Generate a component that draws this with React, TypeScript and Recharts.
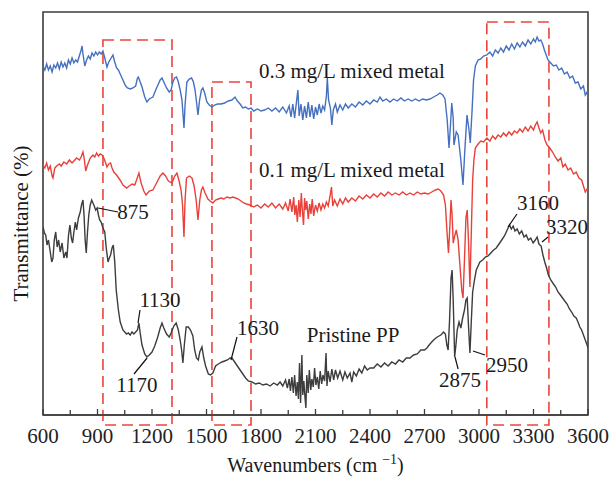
import React from "react";
import {
  ComposedChart,
  Line,
  XAxis,
  YAxis,
  ReferenceArea,
  ReferenceLine,
  ReferenceDot,
} from "recharts";

// [wavenumber (cm-1), transmittance (a.u., stacked)]
const spectrum03: [number, number][] = [
  [600, 349], [610, 345], [620, 351], [630, 345], [640, 349], [650, 343], [660, 350], [670, 347], [680, 352], [690, 346],
  [700, 353], [710, 348], [720, 352], [730, 347], [740, 355], [750, 351], [760, 357], [770, 352], [780, 355], [790, 353],
  [800, 359], [810, 365], [815, 369], [820, 361], [830, 349], [840, 355], [850, 359], [860, 356], [870, 362], [880, 359],
  [890, 363], [900, 360], [910, 363], [920, 361], [930, 364], [940, 357], [952, 348], [962, 353], [975, 357], [985, 360],
  [995, 353], [1005, 347], [1015, 345], [1025, 341], [1040, 335], [1055, 329], [1065, 327], [1080, 326], [1095, 327],
  [1110, 329], [1120, 337], [1125, 338], [1135, 333], [1145, 328], [1160, 318], [1172, 313], [1185, 316], [1205, 318],
  [1225, 327], [1245, 335], [1255, 337], [1265, 333], [1280, 327], [1295, 323], [1305, 325], [1315, 333], [1325, 337],
  [1335, 338], [1345, 333], [1355, 325], [1365, 315], [1376, 287], [1382, 310], [1392, 333], [1405, 336], [1418, 337],
  [1428, 333], [1437, 325], [1445, 313], [1453, 300], [1462, 315], [1472, 325], [1480, 327], [1490, 322], [1502, 313],
  [1515, 310], [1530, 308], [1545, 310], [1560, 311], [1580, 311], [1600, 312], [1620, 314], [1640, 315], [1657, 318],
  [1670, 314], [1685, 311], [1700, 307], [1715, 308], [1730, 306], [1745, 307], [1760, 304], [1780, 306], [1800, 304],
  [1820, 305], [1840, 307], [1860, 304], [1880, 307], [1900, 303], [1920, 308], [1940, 302], [1955, 309], [1965, 298],
  [1975, 311], [1985, 297], [2003, 325], [2010, 299], [2020, 311], [2030, 295], [2040, 309], [2050, 297], [2060, 313],
  [2070, 298], [2080, 310], [2090, 296], [2100, 308], [2110, 300], [2120, 311], [2130, 302], [2140, 309], [2150, 305],
  [2160, 319], [2165, 337], [2172, 315], [2182, 307], [2190, 290], [2198, 305], [2210, 311], [2220, 303], [2235, 310],
  [2250, 305], [2265, 311], [2280, 307], [2300, 311], [2320, 308], [2340, 313], [2360, 310], [2380, 314], [2400, 311],
  [2420, 315], [2440, 313], [2455, 318], [2470, 314], [2490, 316], [2510, 313], [2530, 316], [2550, 314], [2570, 317],
  [2590, 314], [2610, 316], [2630, 314], [2650, 316], [2670, 314], [2690, 316], [2710, 315], [2730, 316], [2750, 318],
  [2770, 320], [2785, 322], [2800, 320], [2813, 316], [2825, 295], [2835, 267], [2843, 290], [2850, 312], [2858, 297],
  [2862, 270], [2875, 283], [2885, 280], [2900, 255], [2912, 230], [2922, 265], [2934, 300], [2945, 285], [2952, 272],
  [2962, 305], [2970, 335], [2980, 349], [2995, 355], [3010, 356], [3025, 359], [3043, 360], [3060, 363], [3075, 359],
  [3090, 365], [3105, 362], [3120, 367], [3135, 363], [3150, 369], [3165, 365], [3180, 371], [3195, 366], [3210, 372],
  [3225, 368], [3240, 373], [3255, 369], [3270, 375], [3285, 371], [3300, 376], [3310, 373], [3320, 378], [3330, 374],
  [3340, 375], [3350, 371], [3360, 365], [3370, 360], [3380, 355], [3395, 352], [3410, 349], [3425, 350], [3440, 345],
  [3455, 347], [3470, 341], [3485, 343], [3500, 337], [3515, 339], [3530, 332], [3545, 333], [3560, 326], [3575, 329],
  [3585, 320], [3595, 323], [3600, 317],
];

const spectrum01: [number, number][] = [
  [600, 250], [610, 247], [620, 252], [630, 245], [640, 249], [650, 239], [655, 237], [665, 247], [675, 249], [690, 251],
  [700, 249], [715, 253], [730, 251], [745, 255], [760, 252], [770, 254], [785, 257], [800, 255], [810, 258], [820, 263],
  [828, 255], [835, 244], [845, 250], [860, 257], [875, 260], [885, 258], [895, 262], [905, 259], [915, 261], [925, 260],
  [935, 257], [945, 252], [952, 248], [962, 251], [972, 252], [980, 247], [990, 243], [1005, 240], [1024, 235], [1040, 230],
  [1060, 227], [1075, 229], [1090, 231], [1105, 230], [1115, 235], [1128, 242], [1140, 232], [1155, 224], [1167, 220],
  [1185, 224], [1205, 225], [1225, 232], [1245, 239], [1260, 242], [1275, 239], [1290, 234], [1310, 232], [1325, 239],
  [1337, 242], [1348, 235], [1360, 225], [1368, 210], [1376, 178], [1382, 215], [1390, 237], [1405, 239], [1420, 237],
  [1432, 229], [1443, 215], [1453, 195], [1463, 215], [1472, 225], [1480, 228], [1492, 222], [1508, 216], [1520, 214],
  [1535, 212], [1550, 215], [1565, 216], [1580, 217], [1595, 216], [1613, 218], [1630, 217], [1645, 218], [1660, 217],
  [1675, 216], [1690, 214], [1705, 212], [1720, 211], [1740, 210], [1760, 208], [1780, 210], [1800, 207], [1820, 211],
  [1840, 208], [1860, 212], [1880, 207], [1900, 211], [1920, 206], [1935, 212], [1950, 204], [1960, 216], [1970, 203],
  [1980, 218], [1986, 200], [1993, 210], [2000, 193], [2008, 215], [2015, 198], [2022, 222], [2027, 206], [2034, 190],
  [2040, 217], [2046, 205], [2052, 214], [2060, 196], [2068, 211], [2075, 201], [2082, 216], [2090, 199], [2100, 210],
  [2110, 204], [2120, 212], [2130, 205], [2140, 211], [2150, 207], [2160, 213], [2170, 209], [2180, 219], [2188, 228],
  [2195, 209], [2205, 215], [2220, 209],
  [2235, 216], [2250, 211], [2265, 217], [2280, 213], [2300, 217], [2320, 214], [2340, 219], [2360, 216], [2380, 220],
  [2400, 217], [2420, 221], [2440, 218], [2460, 222], [2480, 219], [2500, 223], [2520, 220], [2540, 222], [2560, 220],
  [2580, 223], [2600, 220], [2620, 222], [2640, 220], [2660, 223], [2680, 221], [2700, 222], [2720, 221], [2740, 223],
  [2760, 225], [2775, 226], [2790, 224], [2805, 220], [2815, 210], [2825, 180], [2832, 162], [2840, 190], [2846, 215],
  [2852, 200], [2858, 172], [2866, 179], [2875, 185], [2885, 175], [2895, 150], [2905, 125], [2912, 117], [2920, 155],
  [2928, 197], [2935, 205], [2942, 175], [2950, 128], [2958, 185], [2965, 235], [2972, 255], [2980, 267], [2995, 271],
  [3010, 274], [3025, 273], [3043, 277], [3060, 274], [3075, 279], [3090, 276], [3105, 280], [3120, 278], [3135, 282],
  [3150, 279], [3165, 283], [3180, 280], [3195, 284], [3210, 282], [3225, 286], [3240, 283], [3255, 288], [3270, 284],
  [3285, 289], [3300, 285], [3310, 290], [3320, 293], [3330, 287], [3340, 282], [3350, 285], [3363, 275], [3375, 270],
  [3390, 267], [3405, 263], [3420, 258], [3435, 254], [3450, 257], [3462, 248], [3475, 251], [3490, 245], [3505, 247],
  [3520, 241], [3535, 243], [3550, 237], [3565, 235], [3575, 229], [3585, 223], [3595, 226], [3600, 225],
];

const spectrumPP: [number, number][] = [
  [600, 188], [608, 182], [615, 180], [622, 170], [630, 175], [640, 163], [648, 153], [655, 157], [662, 175], [670, 183],
  [678, 168], [686, 175], [695, 163], [705, 172], [715, 157], [725, 163], [732, 157], [740, 179], [748, 190], [756, 177],
  [763, 172], [770, 183], [778, 193], [785, 185], [795, 197], [805, 203], [812, 210], [820, 215], [826, 200], [832, 175],
  [838, 162], [845, 183], [852, 200], [860, 210], [868, 215], [875, 212], [882, 209], [890, 205], [898, 207], [905, 200],
  [912, 195], [920, 193], [930, 187], [940, 183], [948, 167], [958, 153], [965, 157], [972, 160], [980, 167], [987, 170],
  [995, 153], [1003, 125], [1015, 105], [1025, 93], [1040, 85], [1050, 83], [1060, 81], [1070, 82], [1080, 80], [1090, 83],
  [1100, 81], [1110, 83], [1120, 85], [1128, 92], [1135, 82], [1145, 70], [1160, 61], [1172, 58], [1185, 60], [1200, 63],
  [1215, 69], [1230, 77], [1245, 87], [1255, 92], [1265, 87], [1280, 81], [1295, 78], [1305, 82], [1320, 89], [1333, 92],
  [1345, 85], [1355, 75], [1363, 65], [1370, 52], [1378, 70], [1388, 88], [1400, 88], [1412, 85], [1425, 79], [1435, 65],
  [1445, 57], [1455, 55], [1463, 63], [1475, 68], [1485, 57], [1495, 49], [1510, 41], [1522, 40], [1535, 42], [1550, 49],
  [1565, 51], [1585, 53], [1600, 54], [1615, 55], [1630, 57], [1640, 57], [1655, 53], [1670, 49], [1685, 45], [1700, 41],
  [1715, 37], [1730, 34], [1750, 33], [1770, 31], [1790, 32], [1810, 30], [1830, 31], [1850, 29], [1870, 32], [1890, 30],
  [1905, 33], [1920, 29], [1935, 35], [1945, 27], [1955, 36], [1962, 24], [1970, 38], [1978, 22], [1985, 40], [1993, 19],
  [2000, 33], [2006, 16], [2012, 52], [2018, 12], [2025, 60], [2030, 20], [2036, 34], [2042, 18], [2047, 7], [2052, 40],
  [2060, 22], [2066, 45], [2074, 25], [2080, 36], [2088, 28], [2095, 47], [2102, 30], [2110, 38], [2118, 26], [2126, 44],
  [2134, 31], [2141, 40], [2150, 34], [2158, 62], [2163, 29], [2170, 44], [2180, 33], [2190, 46], [2200, 35], [2210, 45],
  [2222, 37], [2235, 44], [2250, 35], [2262, 43], [2275, 37], [2290, 42], [2300, 33], [2310, 43], [2325, 39], [2340, 46],
  [2355, 42], [2370, 49],
  [2385, 45], [2400, 47], [2420, 47], [2440, 51], [2460, 48], [2480, 52], [2500, 49], [2520, 53], [2540, 51], [2560, 55],
  [2580, 53], [2600, 57], [2620, 57], [2640, 60], [2660, 61], [2680, 65], [2700, 65], [2713, 67], [2730, 71], [2750, 75],
  [2770, 78], [2790, 80], [2805, 83], [2815, 81], [2823, 70], [2830, 65], [2838, 95], [2846, 137], [2852, 145], [2858, 115],
  [2866, 58], [2873, 70], [2880, 85], [2890, 93], [2900, 87], [2910, 97], [2920, 105], [2928, 115], [2935, 117], [2942, 90],
  [2950, 62], [2958, 95], [2965, 123], [2975, 135], [2985, 145], [2995, 149], [3005, 153], [3020, 155], [3035, 158],
  [3050, 159], [3065, 162], [3080, 165], [3095, 167], [3110, 171], [3125, 175], [3140, 179], [3150, 183], [3160, 187],
  [3168, 190], [3178, 186], [3188, 189], [3198, 184], [3210, 186], [3222, 181], [3235, 184], [3248, 178], [3260, 180],
  [3272, 175], [3285, 177], [3298, 172], [3310, 175], [3320, 178], [3330, 171], [3342, 169], [3352, 160], [3362, 153],
  [3372, 147], [3382, 140], [3395, 135], [3410, 131], [3422, 128], [3435, 123], [3448, 120], [3460, 117], [3472, 114],
  [3485, 111], [3498, 106], [3510, 103], [3522, 99], [3535, 97], [3545, 93], [3555, 88], [3565, 85], [3575, 80],
  [3585, 75], [3595, 70], [3600, 67],
];

const xTicks = [600, 750, 900, 1050, 1200, 1350, 1500, 1650, 1800, 1950, 2100, 2250, 2400, 2550, 2700, 2850, 3000, 3150, 3300, 3450, 3600];
const majorTicks = [600, 900, 1200, 1500, 1800, 2100, 2400, 2700, 3000, 3300, 3600];

// highlighted regions [x1, x2, top]
const regions: [number, number, number][] = [
  [930, 1310, 375],
  [1530, 1745, 333],
  [3043, 3385, 393],
];

// series labels: [text, x, y]
const seriesLabels: [string, number, number][] = [
  ["0.3 mg/L mixed metal", 2300, 344],
  ["0.1 mg/L mixed metal", 2300, 245],
  ["Pristine PP", 2307, 80],
];

// peak labels: [text, labelX, labelY, lineX1, lineY1, lineX2, lineY2]
const peakLabels: [string, number, number, number, number, number, number][] = [
  ["875", 1095, 203, 903, 207, 1013, 203],
  ["1130", 1244, 115, 1123, 92, 1134, 105],
  ["1170", 1117, 30, 1173, 57, 1101, 41],
  ["1630", 1784, 87, 1635, 55, 1668, 78],
  ["2875", 2896, 35, 2868, 58, 2885, 46],
  ["2950", 3154, 50, 2967, 64, 3033, 60],
  ["3160", 3325, 212, 3160, 188, 3209, 201],
  ["3320", 3485, 188, 3347, 173, 3380, 178],
];

const toData = (s: [number, number][]) => s.map(([x, y]) => ({ x, y }));

const FONT = "'Liberation Serif', 'Times New Roman', serif";
const AXIS = "#3c3c3c";
const DASH_RED = "#e8453c";
const FS = 21;

const XTick = (props: any) => {
  const { x, y, payload } = props;
  const major = majorTicks.includes(payload.value);
  if (!major) return <g />;
  return (
    <text x={x} y={y + 28} textAnchor="middle" fontFamily={FONT} fontSize={FS} fill="#222">
      {payload.value}
    </text>
  );
};

const TextLabel = (text: string, size: number) => (props: any) => {
  const { viewBox } = props;
  const cx = viewBox.x + (viewBox.width || 0) / 2;
  const cy = viewBox.y + (viewBox.height || 0) / 2;
  return (
    <text x={cx} y={cy} textAnchor="middle" dominantBaseline="central" fontFamily={FONT} fontSize={size} fill="#1a1a1a">
      {text}
    </text>
  );
};

export default function App() {
  return (
    <div style={{ position: "absolute", left: 0, top: 0, width: 609, height: 478, background: "#fff" }}>
      <ComposedChart width={609} height={478} margin={{ top: 12, right: 21, bottom: 0, left: 42 }}>
        <XAxis
          xAxisId="b"
          type="number"
          dataKey="x"
          domain={[600, 3600]}
          allowDataOverflow
          ticks={xTicks}
          interval={0}
          tickSize={0}
          tickMargin={0}
          tickLine={false}
          tick={<XTick />}
          axisLine={{ stroke: AXIS, strokeWidth: 1.6 }}
          height={63}
          label={{
            position: "insideBottom",
            content: (p: any) => {
              const vb = p.viewBox;
              return (
                <text x={vb.x + vb.width / 2} y={vb.y + 57} textAnchor="middle" fontFamily={FONT} fontSize={20} fill="#1a1a1a">
                  <tspan>Wavenumbers (cm </tspan>
                  <tspan fontSize={14} dy={-8}>−1</tspan>
                  <tspan dy={8}>)</tspan>
                </text>
              );
            },
          }}
        />
        <YAxis
          yAxisId="l"
          type="number"
          domain={[0, 403]}
          allowDataOverflow
          tick={false}
          tickLine={false}
          axisLine={false}
          width={1}
          label={{
            content: (p: any) => {
              const vb = p.viewBox;
              const cx = 21;
              const cy = vb.y + vb.height / 2 + 10;
              return (
                <text x={cx} y={cy} transform={`rotate(-90 ${cx} ${cy})`} textAnchor="middle" dominantBaseline="central" fontFamily={FONT} fontSize={FS} fill="#1a1a1a">
                  Transmittance (%)
                </text>
              );
            },
          }}
        />

        <ReferenceArea
          xAxisId="b"
          yAxisId="l"
          x1={600}
          x2={3600}
          y1={0}
          y2={403}
          ifOverflow="visible"
          fill="none"
          fillOpacity={0}
          stroke={AXIS}
          strokeWidth={1.6}
        />

        {xTicks.map((t) => (
          <ReferenceLine
            key={`tk${t}`}
            xAxisId="b"
            yAxisId="l"
            segment={[{ x: t, y: 0 }, { x: t, y: majorTicks.includes(t) ? 6 : 5 }]}
            stroke={AXIS}
            strokeWidth={1.3}
            ifOverflow="visible"
          />
        ))}

        {regions.map(([x1, x2, top], i) => (
          <ReferenceArea
            key={`r${i}`}
            xAxisId="b"
            yAxisId="l"
            x1={x1}
            x2={x2}
            y1={-10}
            y2={top}
            ifOverflow="visible"
            fill="none"
            fillOpacity={0}
            stroke={DASH_RED}
            strokeWidth={1.6}
            strokeDasharray="11 6"
          />
        ))}

        <Line xAxisId="b" yAxisId="l" data={toData(spectrumPP)} dataKey="y" type="linear" stroke="#3d3d3d" strokeWidth={1.4} dot={false} isAnimationActive={false} />
        <Line xAxisId="b" yAxisId="l" data={toData(spectrum01)} dataKey="y" type="linear" stroke="#e8413a" strokeWidth={1.4} dot={false} isAnimationActive={false} />
        <Line xAxisId="b" yAxisId="l" data={toData(spectrum03)} dataKey="y" type="linear" stroke="#4570c0" strokeWidth={1.4} dot={false} isAnimationActive={false} />

        {peakLabels.map(([t, lx, ly, x1, y1, x2, y2]) => (
          <ReferenceLine
            key={`pl${t}`}
            xAxisId="b"
            yAxisId="l"
            segment={[{ x: x1, y: y1 }, { x: x2, y: y2 }]}
            stroke="#111"
            strokeWidth={1.2}
            ifOverflow="visible"
          />
        ))}
        {peakLabels.map(([t, lx, ly]) => (
          <ReferenceDot
            key={`pt${t}`}
            xAxisId="b"
            yAxisId="l"
            x={lx}
            y={ly}
            r={0}
            fill="none"
            stroke="none"
            ifOverflow="visible"
            label={{ content: TextLabel(t, FS) }}
          />
        ))}
        {seriesLabels.map(([t, lx, ly]) => (
          <ReferenceDot
            key={`sl${t}`}
            xAxisId="b"
            yAxisId="l"
            x={lx}
            y={ly}
            r={0}
            fill="none"
            stroke="none"
            ifOverflow="visible"
            label={{ content: TextLabel(t, FS) }}
          />
        ))}
      </ComposedChart>
    </div>
  );
}
